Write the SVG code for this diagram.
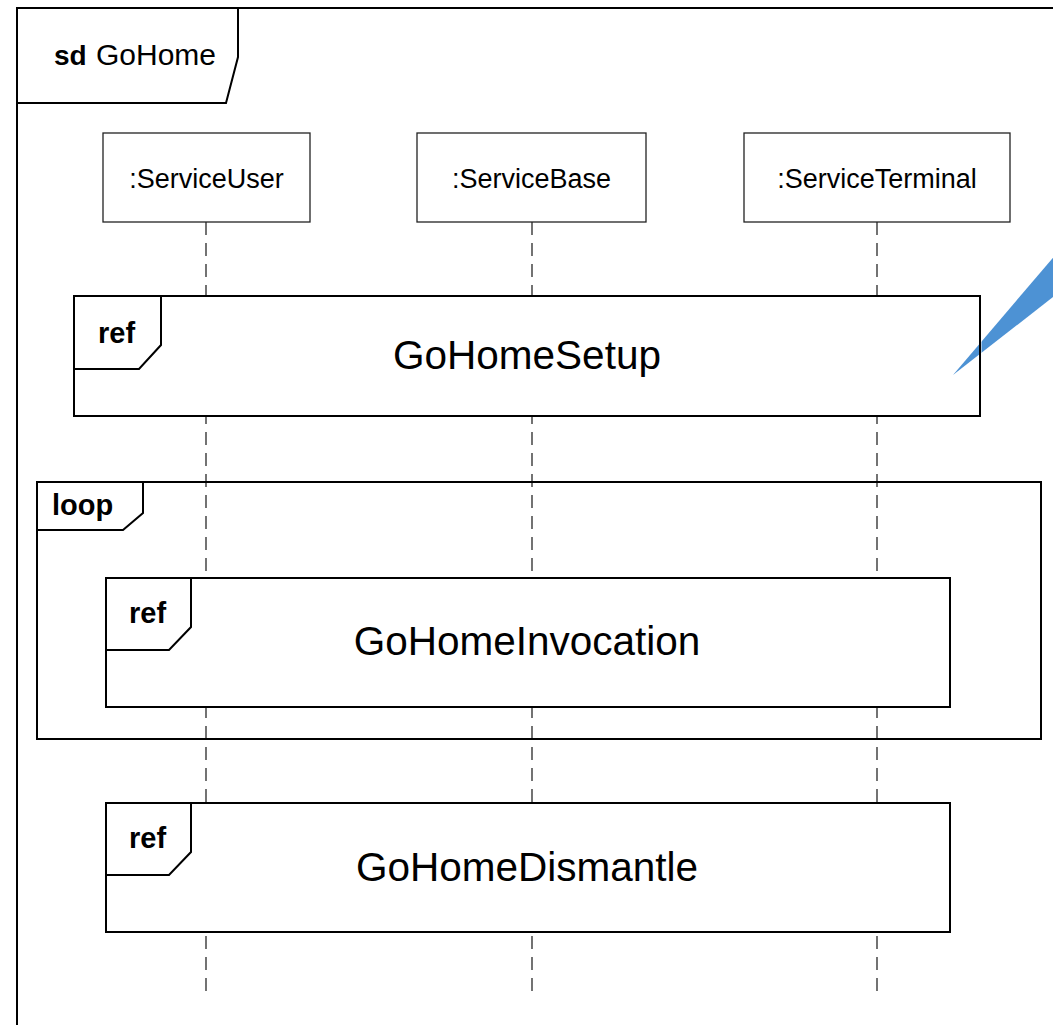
<svg xmlns="http://www.w3.org/2000/svg" width="1053" height="1025" viewBox="0 0 1053 1025">
<defs>
<style>
text{font-family:"Liberation Sans",Arial,sans-serif;fill:#000}
.frame{fill:none;stroke:#000;stroke-width:2}
.ref{fill:#fff;stroke:#000;stroke-width:2}
.tag{fill:#fff;stroke:#000;stroke-width:2;stroke-linejoin:miter}
.head{fill:#fff;stroke:#222;stroke-width:1.3}
.life{stroke:#000;stroke-width:1.1;stroke-dasharray:13 8;fill:none}
.kw{font-weight:bold;font-size:29px}
.big{font-size:40.5px;text-anchor:middle}
.ll{font-size:27px;text-anchor:middle}
</style>
<clipPath id="notEdge">
<rect x="900" y="150" width="79" height="300"/>
<rect x="981.5" y="150" width="150" height="300"/>
</clipPath>
</defs>
<rect width="1053" height="1025" fill="#fff"/>

<g id="diagram-frame">
<path class="frame" d="M17,1030 V8 H1060"/>
<path class="tag" d="M17,8 H238 V57 L226,103 H17 Z"/>
<text x="54" y="65" font-size="28"><tspan font-weight="bold">sd</tspan><tspan x="96" font-size="30">GoHome</tspan></text>
</g>

<g id="connectors">
<line class="life" x1="206" y1="222" x2="206" y2="998"/>
<line class="life" x1="532" y1="222" x2="532" y2="998"/>
<line class="life" x1="877" y1="222" x2="877" y2="998"/>
</g>

<g id="lifeline-ServiceUser">
<rect class="head" x="103" y="133" width="207" height="89"/>
<text class="ll" x="206.5" y="188">:ServiceUser</text>
</g>
<g id="lifeline-ServiceBase">
<rect class="head" x="417" y="133" width="229" height="89"/>
<text class="ll" x="531.5" y="188">:ServiceBase</text>
</g>
<g id="lifeline-ServiceTerminal">
<rect class="head" x="744" y="133" width="266" height="89"/>
<text class="ll" x="877" y="188">:ServiceTerminal</text>
</g>

<g id="ref-GoHomeSetup">
<rect class="ref" x="74" y="296" width="906" height="120"/>
<path class="tag" d="M74,296 H161 V345 L139,369 H74 Z"/>
<text class="kw" x="98" y="343">ref</text>
<text class="big" x="527" y="369">GoHomeSetup</text>
</g>

<g id="callout">
<polygon points="953,375 1080,226 1080,276" fill="#4D92D4" clip-path="url(#notEdge)"/>
</g>

<g id="loop-fragment">
<rect class="frame" x="37" y="482" width="1004" height="257"/>
<path class="tag" d="M37,482 H143 V513 L123,530 H37 Z"/>
<text class="kw" x="52" y="515" font-size="28">loop</text>
</g>

<g id="ref-GoHomeInvocation">
<rect class="ref" x="106" y="578" width="844" height="129"/>
<path class="tag" d="M106,578 H191 V627 L169,650 H106 Z"/>
<text class="kw" x="129" y="623">ref</text>
<text class="big" x="527" y="655">GoHomeInvocation</text>
</g>

<g id="ref-GoHomeDismantle">
<rect class="ref" x="106" y="803" width="844" height="129"/>
<path class="tag" d="M106,803 H191 V852 L169,875 H106 Z"/>
<text class="kw" x="129" y="848">ref</text>
<text class="big" x="527" y="881">GoHomeDismantle</text>
</g>
</svg>
